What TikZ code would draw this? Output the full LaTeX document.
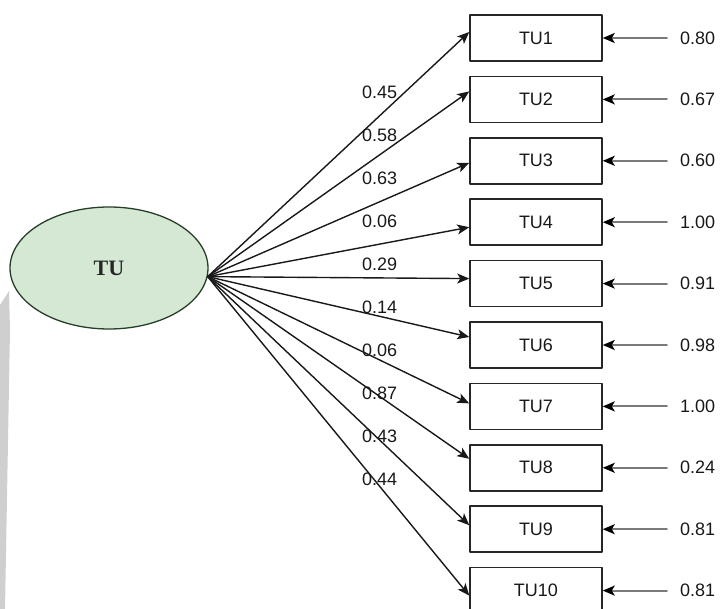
\documentclass[tikz,border=0pt]{standalone}
\usepackage{fontspec}
\setmainfont{Liberation Sans}
\newfontfamily\latentfont{Liberation Serif}
\usetikzlibrary{arrows.meta,shapes.geometric}
\definecolor{latentfill}{HTML}{D5E8D4}
\definecolor{latentdraw}{HTML}{263F26}
\definecolor{errline}{HTML}{7A7A7A}
\tikzset{
    latent/.style={ellipse, draw=latentdraw, fill=latentfill, line width=1.3pt,
        minimum width=198pt, minimum height=122pt, inner sep=0pt,
        font=\latentfont\bfseries\fontsize{22}{24}\selectfont, text=black!85},
    indicator/.style={rectangle, draw=black!85, line width=1.5pt, minimum width=132pt,
        minimum height=46pt, inner sep=0pt, font=\fontsize{18}{20}\selectfont, text=black!90},
    loadlab/.style={anchor=west, inner sep=0pt, font=\fontsize{18}{20}\selectfont, text=black!90},
    errlab/.style={anchor=west, inner xsep=13pt, inner ysep=0pt,
        font=\fontsize{18}{20}\selectfont, text=black!90},
    loadarrow/.style={draw=black!90, line width=1.4pt,
        -{Stealth[length=12pt, width=10pt, inset=3pt]}},
    errarrow/.style={draw=errline, line width=1.9pt,
        -{Stealth[length=12pt, width=10pt, inset=3pt, color=black]}}
}
\begin{document}
\begin{tikzpicture}[x=1pt, y=-1pt, line cap=round, line join=round]
    \clip (0,0) rectangle (721,609);
    \fill[gray!38] (0,305) -- (9,291) -- (10,330) -- (5,609) -- (0,609) -- cycle;
    \node[latent] (tu) at (109,268) {TU};
    \foreach \i/\load/\err/\dy in {1/0.45/0.80/6, 2/0.58/0.67/8, 3/0.63/0.60/-2,
            4/0.06/1.00/-5, 5/0.29/0.91/5, 6/0.14/0.98/8, 7/0.06/1.00/3,
            8/0.87/0.24/9, 9/0.43/0.81/4, 10/0.44/0.81/-5} {
        \node[indicator] (tu\i) at (536, {38+61.4*(\i-1)}) {TU\i};
        \node[loadlab] (l\i) at (362, {92+43*(\i-1)}) {\load};
        \node[errlab] (e\i) at (667, {38+61.4*(\i-1)}) {\err};
        \draw[loadarrow] (tu.-5) -- ([yshift=\dy pt]tu\i.west);
        \draw[errarrow] (e\i.west) -- (tu\i.east);
    }
\end{tikzpicture}
\end{document}
